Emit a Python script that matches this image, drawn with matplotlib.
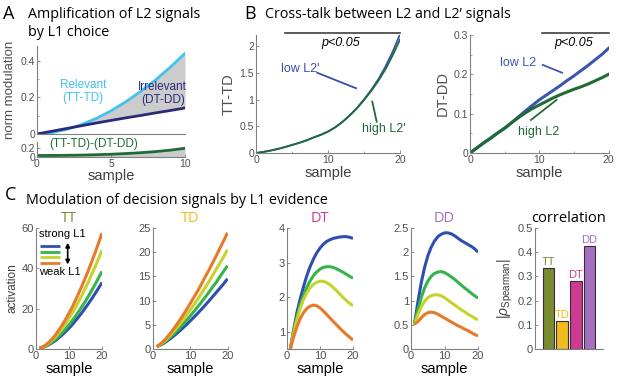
import matplotlib
matplotlib.use("Agg")
import matplotlib.pyplot as plt

plt.rcParams["font.family"] = ["Liberation Sans", "DejaVu Sans"]
plt.rcParams["mathtext.fontset"] = "custom"
plt.rcParams["mathtext.rm"] = "Liberation Sans"
plt.rcParams["mathtext.it"] = "Liberation Sans:italic"

W, H = 617, 380

# ---- panel A data
a_x = [0, 1, 2, 3, 4, 5, 6, 7, 8, 9, 10]
relevant = [0, 0.007, 0.025, 0.051, 0.085, 0.126, 0.176, 0.232, 0.294, 0.364, 0.44]
irrelevant = [0, 0.015, 0.03, 0.045, 0.06, 0.074, 0.088, 0.101, 0.115, 0.128, 0.142]
a_diff = [0.04, 0.041, 0.044, 0.049, 0.057, 0.068, 0.083, 0.102, 0.126, 0.158, 0.2]

# ---- panel B data
b_x = list(range(21))
tt_td_low = [0, 0.02, 0.045, 0.075, 0.11, 0.15, 0.19, 0.235, 0.29, 0.34, 0.40,
             0.48, 0.58, 0.70, 0.84, 1.0, 1.18, 1.38, 1.62, 1.9, 2.22]
tt_td_high = [0, 0.02, 0.045, 0.075, 0.11, 0.15, 0.19, 0.235, 0.29, 0.34, 0.40,
              0.48, 0.58, 0.70, 0.83, 0.99, 1.16, 1.35, 1.57, 1.83, 2.12]
dt_dd_low = [0, 0.013, 0.026, 0.038, 0.051, 0.063, 0.077, 0.092, 0.107, 0.121, 0.135,
             0.147, 0.159, 0.171, 0.184, 0.196, 0.209, 0.222, 0.236, 0.25, 0.266]
dt_dd_high = [0, 0.013, 0.026, 0.038, 0.051, 0.063, 0.077, 0.09, 0.102, 0.113, 0.122,
              0.131, 0.14, 0.148, 0.155, 0.162, 0.168, 0.175, 0.183, 0.191, 0.2]

# ---- panel C data (strong -> weak L1)
c_x = list(range(1, 21))
tt = [
    [0.5, 0.8, 1.4, 2.2, 3.2, 4.3, 5.7, 7.1, 8.7, 10.3, 12.1, 14.1, 16.1, 18.2, 20.5, 22.8, 25.2, 27.7, 30.3, 33.0],
    [0.5, 0.84, 1.53, 2.48, 3.65, 5.0, 6.5, 8.2, 10.0, 12.0, 14.1, 16.3, 18.7, 21.2, 23.8, 26.5, 29.4, 32.3, 35.4, 38.5],
    [0.5, 0.94, 1.81, 3.0, 4.5, 6.2, 8.2, 10.3, 12.7, 15.2, 17.9, 20.7, 23.8, 27.0, 30.3, 33.7, 37.4, 41.1, 45.0, 49.0],
    [0.5, 1.01, 2.04, 3.46, 5.2, 7.2, 9.6, 12.0, 14.8, 17.8, 20.9, 24.3, 27.9, 31.6, 35.5, 39.5, 43.8, 48.2, 52.8, 57.5],
]
td = [
    [0.5, 0.81, 1.24, 1.77, 2.35, 2.96, 3.62, 4.32, 5.05, 5.81, 6.58, 7.37, 8.2, 9.05, 9.91, 10.8, 11.7, 12.6, 13.5, 14.5],
    [0.5, 0.87, 1.39, 2.02, 2.7, 3.44, 4.22, 5.06, 5.93, 6.83, 7.75, 8.7, 9.69, 10.7, 11.7, 12.8, 13.8, 15.0, 16.1, 17.2],
    [0.5, 0.94, 1.56, 2.32, 3.14, 4.02, 4.96, 5.96, 7.0, 8.08, 9.18, 10.3, 11.5, 12.7, 13.9, 15.2, 16.5, 17.8, 19.1, 20.5],
    [0.5, 1.02, 1.75, 2.64, 3.6, 4.64, 5.74, 6.92, 8.14, 9.4, 10.7, 12.0, 13.4, 14.9, 16.3, 17.8, 19.3, 20.9, 22.4, 24.0],
]
dt = [
    [0.5, 1.05, 1.55, 1.95, 2.3, 2.62, 2.88, 3.1, 3.28, 3.42, 3.53, 3.61, 3.66, 3.7, 3.72, 3.74, 3.75, 3.75, 3.73, 3.7],
    [0.5, 1.0, 1.42, 1.77, 2.05, 2.28, 2.47, 2.62, 2.73, 2.81, 2.86, 2.88, 2.88, 2.86, 2.82, 2.77, 2.72, 2.66, 2.6, 2.55],
    [0.5, 0.95, 1.35, 1.68, 1.93, 2.12, 2.27, 2.37, 2.43, 2.46, 2.46, 2.42, 2.36, 2.28, 2.19, 2.09, 1.99, 1.9, 1.82, 1.75],
    [0.5, 0.85, 1.14, 1.38, 1.55, 1.67, 1.74, 1.77, 1.75, 1.69, 1.6, 1.5, 1.4, 1.3, 1.2, 1.1, 1.01, 0.92, 0.84, 0.76],
]
dd = [
    [0.5, 0.95, 1.35, 1.67, 1.92, 2.1, 2.23, 2.32, 2.37, 2.4, 2.4, 2.38, 2.34, 2.29, 2.24, 2.2, 2.16, 2.12, 2.07, 2.0],
    [0.5, 0.8, 1.05, 1.25, 1.4, 1.5, 1.56, 1.59, 1.6, 1.58, 1.54, 1.49, 1.44, 1.38, 1.32, 1.26, 1.21, 1.15, 1.1, 1.05],
    [0.5, 0.7, 0.86, 0.98, 1.06, 1.1, 1.12, 1.12, 1.1, 1.06, 1.01, 0.96, 0.91, 0.86, 0.81, 0.77, 0.72, 0.68, 0.64, 0.6],
    [0.52, 0.56, 0.64, 0.71, 0.75, 0.76, 0.75, 0.72, 0.68, 0.64, 0.6, 0.56, 0.52, 0.48, 0.45, 0.41, 0.38, 0.34, 0.3, 0.27],
]
conds = ["TT", "TD", "DT", "DD"]
corr = [0.335, 0.115, 0.28, 0.425]

l1_colors = ["#2f4fb0", "#35b44a", "#c5d32b", "#e8792a"]
cond_colors = ["#7a8b30", "#f0bb1c", "#cc3b8f", "#a56fbf"]
TICK = "#505050"
SPINE = "#808080"


def add_ax(fig, x0, x1, ytop, ybot):
    return fig.add_axes([x0 / W, 1 - ybot / H, (x1 - x0) / W, (ybot - ytop) / H])


def style(ax):
    for s in ["top", "right"]:
        ax.spines[s].set_visible(False)
    for s in ["left", "bottom"]:
        ax.spines[s].set_color(SPINE)
        ax.spines[s].set_linewidth(0.8)
    ax.tick_params(direction="in", length=2.5, width=0.6, colors=SPINE,
                   labelcolor=TICK, labelsize=7.5, pad=1.5)
    ax.tick_params(which="minor", direction="in", length=1.5, width=0.5, colors=SPINE)
    ax.patch.set_alpha(0)


fig = plt.figure(figsize=(W / 100, H / 100), dpi=100)

title_kw = dict(family="Open Sans", fontsize=10.3, va="center", color="black")
fig.text(3 / W, 1 - 14 / H, "A", family="Open Sans", fontsize=13, va="center")
fig.text(28 / W, 1 - 14 / H, "Amplification of L2 signals", **title_kw)
fig.text(28 / W, 1 - 32 / H, "by L1 choice", **title_kw)
fig.text(244 / W, 1 - 14 / H, "B", family="Open Sans", fontsize=13, va="center")
fig.text(265 / W, 1 - 14 / H, "Cross-talk between L2 and L2\u2019 signals", **title_kw)
fig.text(5 / W, 1 - 195 / H, "C", family="Open Sans", fontsize=13, va="center")
fig.text(26 / W, 1 - 201 / H, "Modulation of decision signals by L1 evidence", **title_kw)

# ---- A
ax = add_ax(fig, 37, 185, 46, 134)
style(ax)
ax.fill_between(a_x, irrelevant, relevant, color="#cccccc", lw=0)
ax.plot(a_x, relevant, color="#41c2ee", lw=2)
ax.plot(a_x, irrelevant, color="#2b2a78", lw=2)
ax.set_xlim(0, 10)
ax.set_ylim(0, 0.48)
ax.set_yticks([0, 0.2, 0.4], ["0", "0.2", "0.4"])
ax.set_yticks([0.1, 0.3], minor=True)
ax.set_xticks([])
ax.set_ylabel("norm modulation", fontsize=9.5, color="#505050", labelpad=3)
ax.text(3.1, 0.23, "Relevant\n(TT-TD)", color="#41c2ee", fontsize=8.5,
        ha="center", va="center", linespacing=1.1)
ax.text(8.5, 0.22, "Irrelevant\n(DT-DD)", color="#2b2a78", fontsize=8.5,
        ha="center", va="center", linespacing=1.1, clip_on=False)

ax = add_ax(fig, 37, 185, 141.5, 157.3)
style(ax)
ax.fill_between(a_x, 0, a_diff, color="#cccccc", lw=0)
ax.plot(a_x, a_diff, color="#1f6b35", lw=2)
ax.set_xlim(0, 10)
ax.set_ylim(0, 0.35)
ax.set_yticks([0, 0.2], ["0", "0.2"])
ax.set_xticks([0, 5, 10])
ax.set_xlabel("sample", fontsize=10.5, color="#404040", labelpad=0)
ax.text(3.8, 0.3, "(TT-TD)-(DT-DD)", color="#1f6b35", fontsize=8.5,
        ha="center", va="center", clip_on=False)

# ---- B left
ax = add_ax(fig, 256, 400, 35.3, 153)
style(ax)
ax.plot(b_x, tt_td_low, color="#3a4fa8", lw=1.3)
ax.plot(b_x, tt_td_high, color="#1e6b3a", lw=1.3)
ax.set_xlim(0, 20)
ax.set_ylim(0, 2.2)
ax.set_xticks([0, 10, 20])
ax.set_xticks([5, 15], minor=True)
ax.set_yticks([0, 0.5, 1, 1.5, 2], ["0", "0.5", "1", "1.5", "2"])
ax.set_ylabel("TT-TD", fontsize=10.5, color="#505050", labelpad=3)
ax.set_xlabel("sample", fontsize=10.5, color="#404040", labelpad=1)
ax.plot([4, 20], [2.24, 2.24], color="#404040", lw=1.2, clip_on=False)
ax.text(11.7, 2.06, "p<0.05", style="italic", fontsize=9, ha="center", va="center")
ax.text(6.1, 1.57, "low L2'", color="#3a4fa8", fontsize=9, ha="center", va="center")
ax.plot([8.5, 13.9], [1.5, 1.21], color="#3a4fa8", lw=1.3)
ax.text(17.7, 0.44, "high L2'", color="#1e6b3a", fontsize=9, ha="center", va="center")
ax.plot([16.15, 16.76], [0.96, 0.585], color="#1e6b3a", lw=1.3)

# ---- B right
ax = add_ax(fig, 470, 608.5, 35, 153)
style(ax)
ax.plot(b_x, dt_dd_low, color="#3f55b0", lw=2.2)
ax.plot(b_x, dt_dd_high, color="#1e6b35", lw=2.2)
ax.set_xlim(0, 20)
ax.set_ylim(0, 0.3)
ax.set_xticks([0, 10, 20])
ax.set_xticks([5, 15], minor=True)
ax.set_yticks([0, 0.1, 0.2, 0.3], ["0", "0.1", "0.2", "0.3"])
ax.set_yticks([0.05, 0.15, 0.25], minor=True)
ax.set_ylabel("DT-DD", fontsize=10.5, color="#505050", labelpad=3)
ax.set_xlabel("sample", fontsize=10.5, color="#404040", labelpad=1)
ax.plot([10.35, 20], [0.305, 0.305], color="#404040", lw=1.2, clip_on=False)
ax.text(15, 0.279, "p<0.05", style="italic", fontsize=9, ha="center", va="center")
ax.text(6.9, 0.228, "low L2", color="#3f55b0", fontsize=9, ha="center", va="center")
ax.plot([10.5, 13.3], [0.224, 0.204], color="#3f55b0", lw=1.3)
ax.text(9.9, 0.053, "high L2", color="#1e6b35", fontsize=9, ha="center", va="center")
ax.plot([8.8, 12.5], [0.084, 0.135], color="#1e6b35", lw=1.3)

# ---- C
c_boxes = [(36, 102), (153, 227.5), (287, 353), (411, 478)]
c_data = [tt, td, dt, dd]
c_ylim = [(0, 60), (0, 25), (0.5, 4), (0, 2.5)]
c_yticks = [[0, 20, 40, 60], [0, 5, 10, 15, 20, 25], [1, 2, 3, 4], [0, 0.5, 1, 1.5, 2, 2.5]]
c_ylabels = [["0", "20", "40", "60"], ["0", "5", "10", "15", "20", "25"],
             ["1", "2", "3", "4"], ["0", "0.5", "1", "1.5", "2", "2.5"]]
for i, (x0, x1) in enumerate(c_boxes):
    ax = add_ax(fig, x0, x1, 228, 349)
    style(ax)
    for k in range(4):
        ax.plot(c_x, c_data[i][k], color=l1_colors[k], lw=2.2, solid_capstyle="butt")
    ax.set_xlim(0, 20)
    ax.set_ylim(*c_ylim[i])
    ax.set_xticks([0, 10, 20])
    ax.set_yticks(c_yticks[i], c_ylabels[i])
    ax.tick_params(labelsize=8)
    ax.set_xlabel("sample", fontsize=10.5, color="black", labelpad=1)
    ax.set_title(conds[i], color=cond_colors[i], fontsize=10.5, pad=4, family="Open Sans")
    if i == 0:
        ax.set_ylabel("activation", fontsize=8.5, color="#404040", labelpad=2)
        ax.text(0.9, 57, "strong L1", fontsize=8, va="center", ha="left")
        for k, yv in enumerate([51.2, 48.2, 45.4, 42.7]):
            ax.plot([1.2, 7.3], [yv, yv], color=l1_colors[k], lw=2, solid_capstyle="butt")
        ax.annotate("", xy=(9.6, 41.9), xytext=(9.6, 52.7),
                    arrowprops=dict(arrowstyle="<|-|>", color="black", lw=1.2,
                                    mutation_scale=6, shrinkA=0, shrinkB=0))
        ax.text(0.9, 38.4, "weak L1", fontsize=8, va="center", ha="left")

# ---- correlation bars
ax = add_ax(fig, 535, 603, 228, 349)
style(ax)
bar_x = [1, 2, 3, 4]
ax.bar(bar_x, corr, width=0.85, color=cond_colors, edgecolor="#3a2a3a", lw=0.8)
for bx, v, name, c in zip(bar_x, corr, conds, cond_colors):
    ax.text(bx, v + 0.005, name, color=c, fontsize=8, ha="center", va="bottom")
ax.set_xlim(0, 5)
ax.set_ylim(0, 0.5)
ax.set_xticks([])
ax.set_yticks([0, 0.1, 0.2, 0.3, 0.4, 0.5], ["0", "0.1", "0.2", "0.3", "0.4", "0.5"])
ax.tick_params(labelsize=8)
ax.set_ylabel(r"$|\rho_{\mathrm{Spearman}}|$", fontsize=10, color="#404040", labelpad=2)
ax.set_title("correlation", fontsize=10.5, pad=4, family="Open Sans")

fig.savefig("out.png", dpi=100)
